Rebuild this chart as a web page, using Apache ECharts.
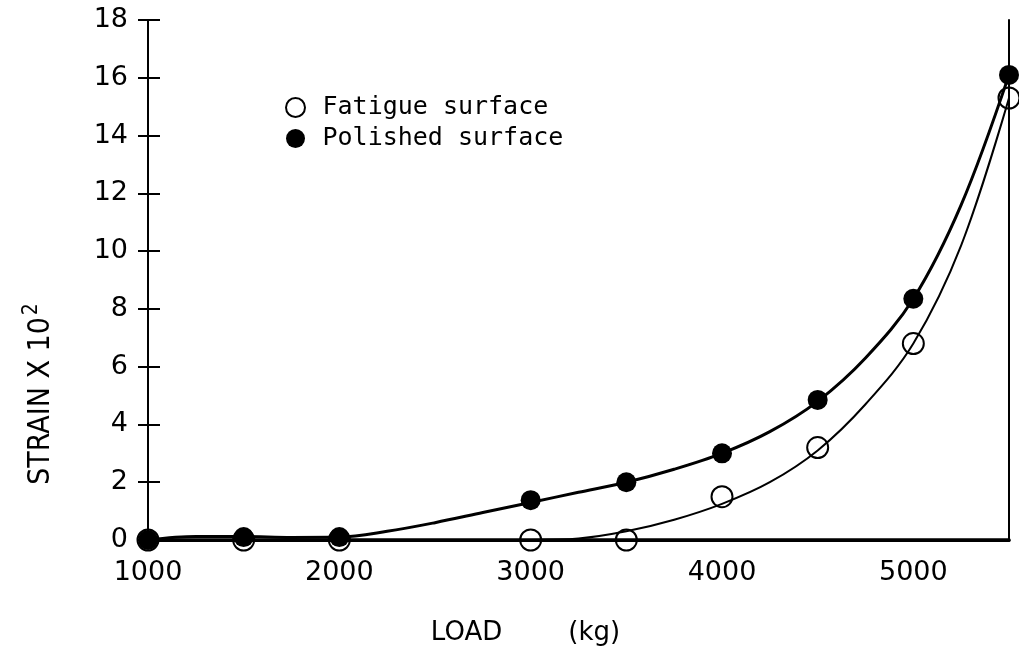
<!DOCTYPE html>
<html>
<head>
<meta charset="utf-8">
<script src="https://cdn.jsdelivr.net/npm/echarts@6/dist/echarts.min.js"></script>
<style>
  html, body { margin: 0; padding: 0; background: #fff; }
  #chart { width: 1019px; height: 654px; }
</style>
</head>
<body>
<div id="chart"></div>
<script>
// Strain (x 10^2) against load (kg) for two surface finishes.
// Measured points
const loads = [1000, 1500, 2000, 3000, 3500, 4000, 4500, 5000, 5500];
const fatigueStrain = [0, 0, 0, 0, 0, 1.5, 3.2, 6.8, 15.3];
const polishedStrain = [0, 0.1, 0.1, 1.38, 2.0, 3.0, 4.85, 8.35, 16.1];

// Hand-drawn trend curves through each set of points
const curveLoads = [1000, 1250, 1500, 1750, 2000, 2250, 2500, 2750, 3000, 3250,
                    3500, 3750, 4000, 4250, 4500, 4750, 5000, 5250, 5500];
const fatigueCurve = [0, 0, 0, 0, 0, 0, 0, 0, 0, 0.05,
                      0.3, 0.7, 1.25, 2.0, 3.1, 4.7, 6.8, 10.2, 15.3];
const polishedCurve = [0, 0.12, 0.12, 0.09, 0.1, 0.3, 0.6, 0.95, 1.3, 1.65,
                       2.0, 2.45, 3.0, 3.75, 4.8, 6.3, 8.35, 11.6, 16.1];

const loadTicks = [1000, 2000, 3000, 4000, 5000];
const strainTicks = [0, 2, 4, 6, 8, 10, 12, 14, 16, 18];

const seriesNames = ['Fatigue surface', 'Polished surface'];
const INK = '#000';
const FONT = 'DejaVu Sans';
const NARROW = 'Liberation Sans Narrow, DejaVu Sans Condensed, sans-serif';

const pairs = (xs, ys) => xs.map((x, i) => [x, ys[i]]);

const strainMin = strainTicks[0];
const strainMax = strainTicks[strainTicks.length - 1];
const strainStep = strainTicks[1] - strainTicks[0];
const loadMin = loadTicks[0];
const loadMax = loads[loads.length - 1];

const yBase = {
  type: 'value',
  min: strainMin,
  max: strainMax,
  interval: strainStep,
  splitLine: { show: false }
};

const openDot = { color: 'rgba(0,0,0,0)', borderColor: INK, borderWidth: 2, opacity: 1 };
const solidDot = { color: INK, borderWidth: 0, opacity: 1 };

const option = {
  backgroundColor: '#fff',
  animation: false,
  grid: { left: 148, right: 10, top: 20, bottom: 114, outerBoundsMode: 'none' },
  legend: {
    orient: 'vertical',
    left: 280,
    top: 90,
    itemWidth: 44,
    itemHeight: 19,
    itemGap: 6,
    selectedMode: false,
    textStyle: { fontFamily: 'DejaVu Sans Mono', fontSize: 25, color: INK },
    data: [
      { name: seriesNames[0], icon: 'circle', itemStyle: openDot },
      { name: seriesNames[1], icon: 'circle', itemStyle: solidDot }
    ]
  },
  xAxis: [
    {
      type: 'value',
      min: loadMin,
      max: loadMax,
      interval: loadTicks[1] - loadTicks[0],
      splitLine: { show: false },
      axisLine: { show: true, lineStyle: { color: INK, width: 3 } },
      axisTick: { show: false },
      axisLabel: {
        margin: 19,
        fontFamily: FONT,
        fontSize: 27,
        color: INK,
        formatter: (v) => (loadTicks.includes(v) ? String(v) : '')
      },
      name: 'LOAD        (kg)',
      nameLocation: 'middle',
      nameGap: 80,
      nameTextStyle: {
        fontFamily: FONT,
        fontSize: 26,
        color: INK,
        padding: [0, 106, 0, 0]
      }
    },
    {
      type: 'value',
      position: 'top',
      min: loadMin,
      max: loadMax,
      splitLine: { show: false },
      axisLine: { show: true, lineStyle: { color: INK, width: 3.5 } },
      axisTick: { show: false },
      axisLabel: { show: false }
    }
  ],
  yAxis: [
    Object.assign({}, yBase, {
      position: 'left',
      axisLine: { show: true, lineStyle: { color: INK, width: 2 } },
      axisTick: { show: true, inside: true, length: 12, lineStyle: { color: INK, width: 2 } },
      axisLabel: { margin: 20, fontFamily: FONT, fontSize: 27, color: INK },
      name: '{a|STRAIN X 10}{s|2}',
      nameLocation: 'middle',
      nameGap: 86,
      nameTextStyle: {
        padding: [0, 228, 0, 0],
        rich: {
          a: { fontFamily: NARROW, fontSize: 30, color: INK },
          s: { fontFamily: NARROW, fontSize: 21, color: INK, padding: [0, 0, 20, 2] }
        }
      }
    }),
    Object.assign({}, yBase, {
      position: 'left',
      axisLine: { show: false },
      axisTick: { show: true, inside: false, length: 10, lineStyle: { color: INK, width: 2 } },
      axisLabel: { show: false }
    }),
    Object.assign({}, yBase, {
      position: 'right',
      axisLine: { show: true, lineStyle: { color: INK, width: 2 } },
      axisTick: { show: false },
      axisLabel: { show: false }
    })
  ],
  series: [
    {
      name: 'fatigue-curve',
      type: 'line',
      smooth: 0.35,
      data: pairs(curveLoads, fatigueCurve),
      showSymbol: false,
      symbol: 'none',
      z: 2,
      lineStyle: { color: INK, width: 2 },
      emphasis: { disabled: true }
    },
    {
      name: 'polished-curve',
      type: 'line',
      smooth: 0.35,
      data: pairs(curveLoads, polishedCurve),
      showSymbol: false,
      symbol: 'none',
      z: 2,
      lineStyle: { color: INK, width: 3 },
      emphasis: { disabled: true }
    },
    {
      name: seriesNames[0],
      type: 'scatter',
      data: pairs(loads, fatigueStrain),
      symbol: 'circle',
      symbolSize: 21,
      clip: false,
      z: 3,
      itemStyle: openDot,
      emphasis: { disabled: true }
    },
    {
      name: seriesNames[1],
      type: 'scatter',
      data: pairs(loads, polishedStrain),
      symbol: 'circle',
      symbolSize: 20,
      clip: false,
      z: 4,
      itemStyle: solidDot,
      emphasis: { disabled: true }
    }
  ]
};

const chart = echarts.init(document.getElementById('chart'), null, { renderer: 'canvas' });
chart.setOption(option);
</script>
</body>
</html>
